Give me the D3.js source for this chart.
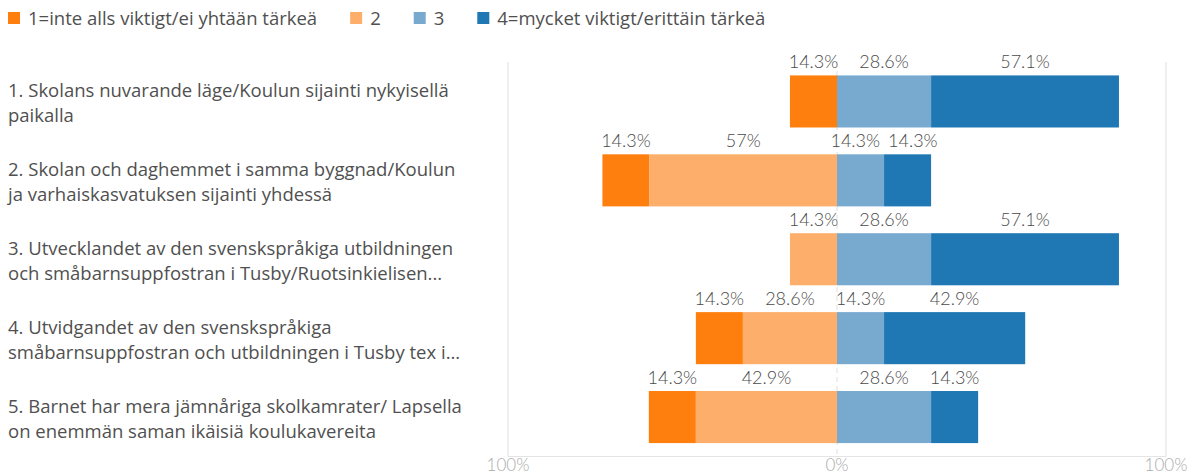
<!DOCTYPE html>
<html>
<head>
<meta charset="utf-8">
<script src="https://cdn.jsdelivr.net/npm/d3@7"></script>
<style>
	body { margin: 0; background: #ffffff; }
	svg { display: block; }
</style>
</head>
<body>
<div id="container"></div>
<script>
// category labels, already broken into the two lines shown in the picture
const categories = [
	['1. Skolans nuvarande läge/Koulun sijainti nykyisellä', 'paikalla'],
	['2. Skolan och daghemmet i samma byggnad/Koulun', 'ja varhaiskasvatuksen sijainti yhdessä'],
	['3. Utvecklandet av den svenskspråkiga utbildningen', 'och småbarnsuppfostran i Tusby/Ruotsinkielisen...'],
	['4. Utvidgandet av den svenskspråkiga', 'småbarnsuppfostran och utbildningen i Tusby tex i...'],
	['5. Barnet har mera jämnåriga skolkamrater/ Lapsella', 'on enemmän saman ikäisiä koulukavereita']
];

const levels = ['1=inte alls viktigt/ei yhtään tärkeä', '2', '3', '4=mycket viktigt/erittäin tärkeä'];
const levelColors = ['#ff7f0e', '#fdae6b', '#78aad0', '#1f77b4'];

// percentages per answer level
const notImportant = [14.3, 14.3, 0, 14.3, 14.3];
const level2 = [0, 57, 14.3, 28.6, 42.9];
const level3 = [28.6, 14.3, 28.6, 14.3, 28.6];
const veryImportant = [57.1, 14.3, 57.1, 42.9, 14.3];

const tickValues = [-100, 0, 100];
const tickLabels = ['100%', '0%', '100%'];

const width = 1193;
const height = 475;

const svg = d3.select('#container').append('svg')
	.attr('width', width)
	.attr('height', height);

const x = d3.scaleLinear()
	.domain([-100, 100])
	.range([508, 1166]);

const y = d3.scaleBand()
	.domain(d3.range(categories.length))
	.range([62, 456.5])
	.paddingInner(0.34)
	.paddingOuter(0.17);

// build segments: levels 1 and 2 go left of zero, 3 and 4 to the right
const segments = [];
categories.forEach((cat, i) => {
	const v = [notImportant[i], level2[i], level3[i], veryImportant[i]];
	const lefts = [-(v[0] + v[1]), -v[1], 0, v[2]];
	v.forEach((value, k) => {
		if (value > 0) {
			segments.push({ row: i, level: k, value, x0: lefts[k], x1: lefts[k] + value });
		}
	});
});

// grid
const grid = svg.append('g');
grid.selectAll('.grid-line')
	.data(tickValues).enter()
	.append('line')
	.attr('x1', d => x(d))
	.attr('x2', d => x(d))
	.attr('y1', y.range()[0])
	.attr('y2', y.range()[1])
	.attr('stroke', '#e4e4e4')
	.attr('stroke-width', 1.2)
	.attr('stroke-dasharray', d => d === 0 ? '5,4' : null);

grid.append('line')
	.attr('x1', x(-100))
	.attr('x2', x(100))
	.attr('y1', y.range()[1])
	.attr('y2', y.range()[1])
	.attr('stroke', '#e4e4e4')
	.attr('stroke-width', 1.2);

// axis labels
svg.selectAll('.tick-label')
	.data(tickValues).enter()
	.append('text')
	.attr('x', d => x(d))
	.attr('y', 471)
	.attr('text-anchor', 'middle')
	.attr('font-family', 'Lato, sans-serif')
	.attr('font-weight', 300)
	.attr('font-size', 17)
	.attr('fill', '#ababab')
	.text((d, i) => tickLabels[i]);

// bars
svg.append('g').selectAll('rect')
	.data(segments).enter()
	.append('rect')
	.attr('x', d => x(d.x0))
	.attr('y', d => y(d.row))
	.attr('width', d => x(d.x1) - x(d.x0))
	.attr('height', y.bandwidth())
	.attr('fill', d => levelColors[d.level]);

// value labels above each segment
const valueLabels = svg.append('g').selectAll('text')
	.data(segments).enter()
	.append('text')
	.attr('x', d => x((d.x0 + d.x1) / 2))
	.attr('y', d => y(d.row) - 7)
	.attr('text-anchor', 'middle')
	.attr('font-family', 'Lato, sans-serif')
	.attr('font-weight', 300)
	.attr('font-size', 18)
	.attr('fill', '#4a4a4a')
	.text(d => `${d.value}%`);

// push apart labels that would overlap inside a row
valueLabels.each(function(d) {
	d.cx = x((d.x0 + d.x1) / 2);
	d.w = this.getComputedTextLength();
});
d3.groups(segments, d => d.row).forEach(([, row]) => {
	row.sort((a, b) => a.cx - b.cx);
	for (let pass = 0; pass < 5; pass++) {
		for (let k = 1; k < row.length; k++) {
			const a = row[k - 1];
			const b = row[k];
			const overlap = (a.cx + a.w / 2 + 8) - (b.cx - b.w / 2);
			if (overlap > 0) {
				a.cx -= overlap / 2;
				b.cx += overlap / 2;
			}
		}
	}
});
valueLabels.attr('x', d => d.cx);

// category labels
const catLabels = svg.append('g').selectAll('text')
	.data(categories).enter()
	.append('text')
	.attr('font-family', '"Open Sans", sans-serif')
	.attr('font-size', 18.5)
	.attr('fill', '#505050');

catLabels.selectAll('tspan')
	.data((d, i) => d.map((line, j) => ({ line, j, row: i }))).enter()
	.append('tspan')
	.attr('x', 8)
	.attr('y', d => y(d.row) + y.bandwidth() / 2 - 4 + d.j * 25)
	.text(d => d.line);

// legend
const legend = svg.append('g');
let legendX = 8;
levels.forEach((name, i) => {
	legend.append('rect')
		.attr('x', legendX)
		.attr('y', 12)
		.attr('width', 12)
		.attr('height', 12)
		.attr('fill', levelColors[i]);
	const t = legend.append('text')
		.attr('x', legendX + 20)
		.attr('y', 25)
		.attr('font-family', '"Open Sans", sans-serif')
		.attr('font-size', 18.5)
		.attr('fill', '#505050')
		.text(name);
	legendX += 20 + t.node().getComputedTextLength() + 33;
});
</script>
</body>
</html>
